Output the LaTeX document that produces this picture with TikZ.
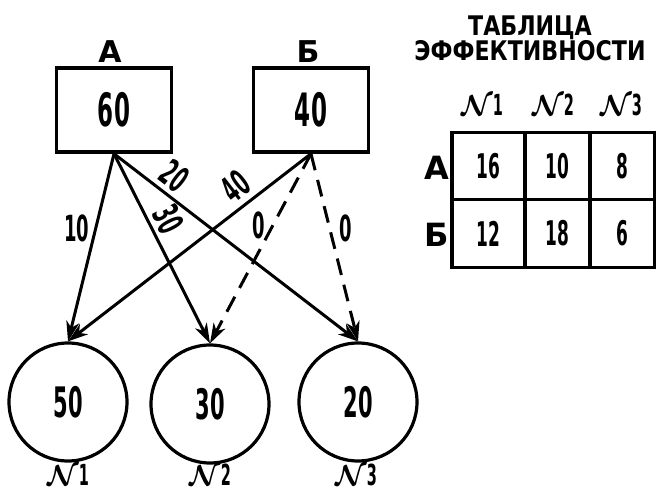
\RequirePackage{fix-cm}
\documentclass[tikz,border=0pt]{standalone}
\usepackage{fontspec}
\setmainfont{DejaVu Sans}
\newfontfamily\narrowfont{DejaVu Sans}[FakeStretch=0.5]
\newfontfamily\titlefont{DejaVu Sans}[FakeStretch=0.82]
\usetikzlibrary{arrows.meta}

\newcommand{\No}{{\boldmath$\mathcal{N}$}}

\tikzset{
	stock/.style={draw, line width=3.5pt, minimum width=115pt, minimum height=84pt,
		font=\narrowfont\bfseries\fontsize{46}{46}\selectfont},
	shop/.style={draw, circle, line width=3.2pt, minimum size=118pt,
		font=\narrowfont\bfseries\fontsize{42}{42}\selectfont},
	flow/.style={->, line width=3pt},
	plan/.style={->, line width=3pt, dash pattern=on 17pt off 10pt},
	amount/.style={font=\narrowfont\bfseries\fontsize{36}{36}\selectfont, inner sep=0pt},
	letter/.style={font=\bfseries\fontsize{30}{30}\selectfont},
	cell/.style={draw, line width=3.2pt, minimum height=67.5pt, inner sep=0pt,
		font=\narrowfont\bfseries\fontsize{34}{34}\selectfont},
	numlabel/.style={font=\narrowfont\bfseries\fontsize{29}{29}\selectfont, inner sep=0pt}
}

\begin{document}
\begin{tikzpicture}[x=1pt, y=-1pt, >={Stealth[length=20pt, width=13pt, inset=6pt]}]
\useasboundingbox (0,0) rectangle (656,494);

\begin{scope}
	\node[letter] (nameA) at (110,52) {А};
	\node[letter] (nameB) at (308,52) {Б};
	\node[stock] (A) at (114,110) {60};
	\node[stock] (B) at (311,110) {40};

	\node[shop] (s1) at (68,402) {50};
	\node[shop] (s2) at (210,404) {30};
	\node[shop] (s3) at (358,402) {20};

	\node[numlabel, anchor=base] (n1) at (68,485) {\No1};
	\node[numlabel, anchor=base] (n2) at (210,485) {\No2};
	\node[numlabel, anchor=base] (n3) at (356,485) {\No3};

	\draw[flow] (A.south) -- node[amount, left=5pt, pos=0.4] (qA1) {10} (s1.north);
	\draw[flow] (A.south) -- node[amount, sloped, above=4pt, pos=0.39] (qA2) {30} (s2.north);
	\draw[flow] (A.south) -- node[amount, sloped, above=4pt, pos=0.2] (qA3) {20} (s3.north);
	\draw[flow] (B.south) -- node[amount, sloped, above=5pt, pos=0.26] (qB1) {40} (s1.north);
	\draw[plan] (B.south) -- node[amount, left=6pt, pos=0.38] (qB2) {0} (s2.north);
	\draw[plan] (B.south) -- node[amount, right=8pt, pos=0.4] (qB3) {0} (s3.north);
\end{scope}

\begin{scope}
	\node[font=\titlefont\bfseries\fontsize{27}{25}\selectfont, align=center] (title) at (530,38)
		{ТАБЛИЦА\\ЭФФЕКТИВНОСТИ};

	\node[numlabel] (h1) at (482,105) {\No1};
	\node[numlabel] (h2) at (553,105) {\No2};
	\node[numlabel] (h3) at (621,105) {\No3};

	\node[letter, font=\bfseries\fontsize{32}{32}\selectfont] (rowA) at (437,168) {А};
	\node[letter, font=\bfseries\fontsize{32}{32}\selectfont] (rowB) at (437,235) {Б};

	\node[cell, minimum width=73pt] (t11) at (488.5,166) {16};
	\node[cell, minimum width=65pt] (t12) at (557.5,166) {10};
	\node[cell, minimum width=65pt] (t13) at (622.5,166) {8};
	\node[cell, minimum width=73pt] (t21) at (488.5,233.5) {12};
	\node[cell, minimum width=65pt] (t22) at (557.5,233.5) {18};
	\node[cell, minimum width=65pt] (t23) at (622.5,233.5) {6};
\end{scope}
\end{tikzpicture}
\end{document}
